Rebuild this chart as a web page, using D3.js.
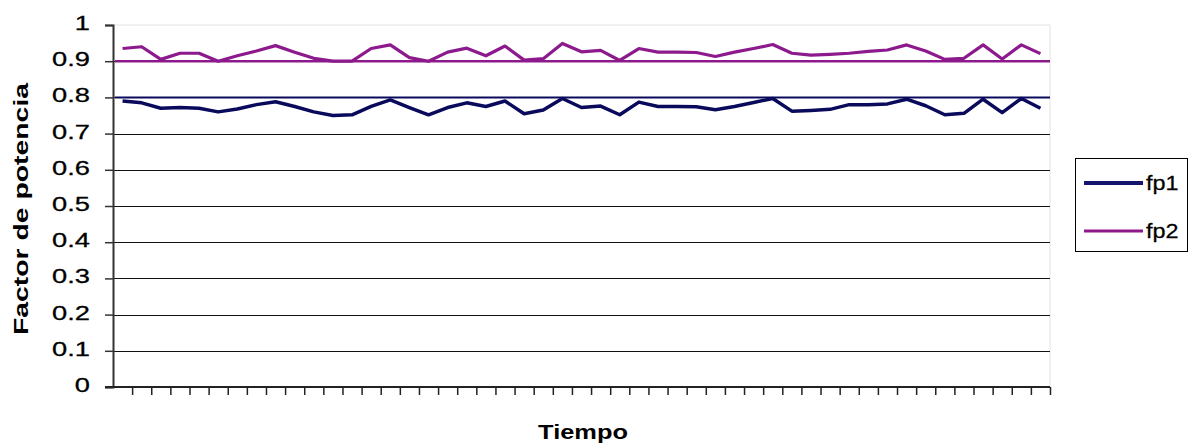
<!DOCTYPE html>
<html>
<head>
<meta charset="utf-8">
<script src="https://cdn.jsdelivr.net/npm/d3@7"></script>
<style>
  html, body { margin: 0; padding: 0; background: #fff; }
  svg { display: block; }
  text { font-family: "Liberation Sans", Arial, sans-serif; fill: #000; }
</style>
</head>
<body>
<div id="chart"></div>
<script>
// Power-factor readings over time for two feeders
const periods = d3.range(1, 50);           // 49 time intervals
const fp1 = [0.79, 0.785, 0.77, 0.772, 0.77, 0.76, 0.768, 0.78, 0.788, 0.775,
             0.76, 0.75, 0.752, 0.775, 0.793, 0.772, 0.752, 0.772, 0.785, 0.775,
             0.79, 0.755, 0.765, 0.797, 0.772, 0.776, 0.752, 0.787, 0.775, 0.775,
             0.774, 0.766, 0.775, 0.786, 0.797, 0.762, 0.764, 0.767, 0.78, 0.78,
             0.782, 0.795, 0.777, 0.752, 0.756, 0.795, 0.758, 0.797, 0.77];
const fp2 = [0.935, 0.94, 0.905, 0.922, 0.922, 0.9, 0.915, 0.928, 0.943, 0.925,
             0.908, 0.9, 0.9, 0.935, 0.945, 0.91, 0.9, 0.925, 0.936, 0.915,
             0.942, 0.903, 0.907, 0.949, 0.926, 0.93, 0.902, 0.935, 0.925, 0.925,
             0.924, 0.913, 0.925, 0.935, 0.946, 0.922, 0.917, 0.919, 0.922, 0.927,
             0.931, 0.945, 0.928, 0.905, 0.908, 0.945, 0.906, 0.945, 0.921];
// lower bounds of each band
const fp1Base = 0.8;
const fp2Base = 0.9;
const yTicks = [0, 0.1, 0.2, 0.3, 0.4, 0.5, 0.6, 0.7, 0.8, 0.9, 1];
const seriesNames = ["fp1", "fp2"];

const W = 1189, H = 448;
const plotL = 113, plotR = 1050, plotT = 25, plotB = 387;
const colFp1 = "#0a0a5c", colFp2 = "#8c1a8c";

const svg = d3.select("#chart").append("svg").attr("width", W).attr("height", H);

// category edges (ticks between periods) and centres (data points)
const xEdge = d3.scaleLinear().domain([0, periods.length]).range([plotL, plotR]);
const xc = i => xEdge(i + 0.5);
const y = d3.scaleLinear().domain([0, 1]).range([plotB, plotT]);

// faint plot frame at top / right
svg.append("path")
  .attr("d", `M${plotL},${y(1)}H${plotR}V${plotB}`)
  .attr("fill", "none").attr("stroke", "#e2e2e2").attr("stroke-width", 1);

// gridlines
svg.append("g").selectAll("line")
  .data(yTicks.filter(v => v > 0 && v < 1))
  .join("line")
  .attr("x1", plotL).attr("x2", plotR)
  .attr("y1", d => Math.round(y(d)) + 0.5).attr("y2", d => Math.round(y(d)) + 0.5)
  .attr("stroke", "#111").attr("stroke-width", 1);

// y axis
const yAxis = d3.axisLeft(y).tickValues(yTicks).tickSize(8).tickFormat("");
const gy = svg.append("g").attr("transform", `translate(${plotL},0)`).call(yAxis);
gy.select(".domain").attr("stroke", "#333").attr("stroke-width", 2);
gy.selectAll(".tick line").attr("stroke", "#333").attr("stroke-width", 1.5);

// y tick labels (wide Arial-like digits)
svg.append("g").selectAll("text")
  .data(yTicks)
  .join("text")
  .attr("transform", d => `translate(90,${y(d) + 5}) scale(1.3,1)`)
  .attr("text-anchor", "end")
  .attr("font-size", 21)
  .attr("stroke", "#000").attr("stroke-width", 0.3)
  .text(d => d3.format("~g")(d));

// x axis with ticks on period boundaries
const xAxis = d3.axisBottom(xEdge).tickValues(d3.range(1, periods.length + 1)).tickSize(8).tickFormat("");
const gx = svg.append("g").attr("transform", `translate(0,${plotB})`).call(xAxis);
gx.select(".domain").attr("stroke", "#222").attr("stroke-width", 2)
  .attr("d", `M${plotL - 8},0H${plotR}`);
gx.selectAll(".tick line").attr("stroke", "#222").attr("stroke-width", 1.5);

// band bases
svg.append("line")
  .attr("x1", plotL + 2).attr("x2", plotR)
  .attr("y1", y(fp2Base)).attr("y2", y(fp2Base))
  .attr("stroke", colFp2).attr("stroke-width", 2.5);
svg.append("line")
  .attr("x1", plotL + 2).attr("x2", plotR)
  .attr("y1", y(fp1Base)).attr("y2", y(fp1Base))
  .attr("stroke", colFp1).attr("stroke-width", 2);

// series lines
const line = d3.line().x((d, i) => xc(i)).y(d => y(d));
svg.append("path").datum(fp2)
  .attr("d", line).attr("fill", "none")
  .attr("stroke", colFp2).attr("stroke-width", 3.2).attr("stroke-linejoin", "round");
svg.append("path").datum(fp1)
  .attr("d", line).attr("fill", "none")
  .attr("stroke", colFp1).attr("stroke-width", 3.5).attr("stroke-linejoin", "round");

// axis titles
svg.append("text")
  .attr("transform", "translate(583,439) scale(1.27,1)")
  .attr("text-anchor", "middle").attr("font-size", 20).attr("font-weight", "bold")
  .text("Tiempo");
svg.append("text")
  .attr("transform", "translate(28,209) rotate(-90)")
  .attr("text-anchor", "middle").attr("font-size", 21).attr("font-weight", "bold")
  .attr("textLength", 252).attr("lengthAdjust", "spacingAndGlyphs")
  .text("Factor de potencia");

// legend
const lg = svg.append("g");
lg.append("rect").attr("x", 1075.5).attr("y", 158.5).attr("width", 112).attr("height", 93)
  .attr("fill", "#fff").attr("stroke", "#000").attr("stroke-width", 1);
const legendY = [183, 231];
const legendCol = ["#15156e", colFp2];
seriesNames.forEach((name, i) => {
  lg.append("line").attr("x1", 1084).attr("x2", 1143)
    .attr("y1", legendY[i]).attr("y2", legendY[i])
    .attr("stroke", legendCol[i]).attr("stroke-width", i === 0 ? 4 : 3);
  lg.append("text")
    .attr("transform", `translate(1146,${legendY[i] + 7}) scale(1.17,1)`)
    .attr("font-size", 20)
    .attr("stroke", "#000").attr("stroke-width", 0.25)
    .text(name);
});
</script>
</body>
</html>
